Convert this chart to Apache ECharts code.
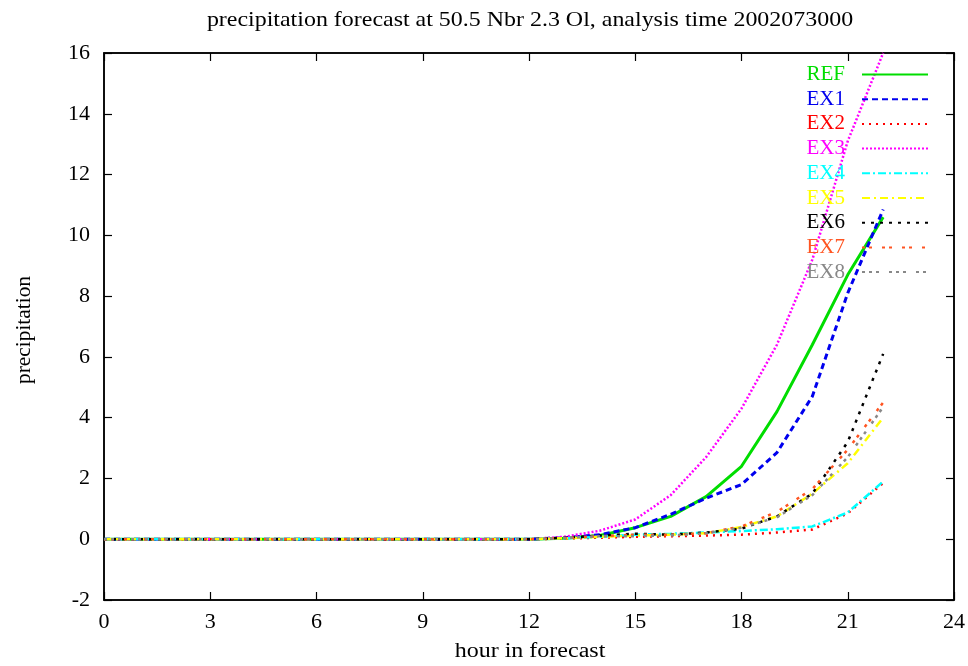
<!DOCTYPE html>
<html><head><meta charset="utf-8">
<script src="https://cdn.jsdelivr.net/npm/echarts@6/dist/echarts.min.js"></script>
<style>html,body{margin:0;padding:0;background:#fff}#c{width:968px;height:666px}</style>
</head><body><div id="c"></div>
<script>
var hours = [0,1,2,3,4,5,6,7,8,9,10,11,12,13,14,15,16,17,18,19,20,21,22];
var z = [0,0,0,0,0,0,0,0,0,0,0,0,0];
var REF = z.concat([0.03,0.12,0.38,0.75,1.4,2.4,4.2,6.4,8.7,10.6]);
var EX1 = z.concat([0.05,0.15,0.38,0.82,1.35,1.8,2.85,4.7,8.1,10.85]);
var EX2 = z.concat([0.02,0.05,0.08,0.1,0.12,0.15,0.22,0.32,0.85,1.85]);
var EX3 = z.concat([0.08,0.28,0.65,1.45,2.7,4.3,6.4,9.2,13.1,16.0]);
var EX4 = z.concat([0.03,0.08,0.15,0.18,0.22,0.27,0.33,0.42,0.88,1.9]);
var EX5 = z.concat([0.03,0.08,0.12,0.15,0.2,0.4,0.75,1.5,2.5,4.0]);
var EX6 = z.concat([0.05,0.12,0.18,0.15,0.22,0.35,0.75,1.5,3.2,6.1]);
var EX7 = z.concat([0.04,0.1,0.15,0.15,0.2,0.42,0.9,1.65,2.95,4.5]);
var EX8 = z.concat([0.04,0.1,0.1,0.12,0.2,0.38,0.72,1.45,2.7,4.35]);
var names = ['REF','EX1','EX2','EX3','EX4','EX5','EX6','EX7','EX8'];
var values = [REF,EX1,EX2,EX3,EX4,EX5,EX6,EX7,EX8];
var colors = ['#00dd00','#0000ee','#ff0000','#ff00ff','#00ffff','#ffff00','#000000','#ff5522','#888888'];
var dashes = ['solid',[6,4],[2,5],[2,2],[8,3,2,3],[8,4,2,4],[3,6],[3,4,3,10],[3,4,3,4,3,10]];
var widths = [3,3,2.5,2.5,2.5,2.5,2.5,2.5,2.5];
var xTicks = {min:0,max:24,interval:3};
var yTicks = {min:-2,max:16,interval:2};
var titleText = 'precipitation forecast at 50.5 Nbr 2.3 Ol, analysis time 2002073000';
var xName = 'hour in forecast';
var yName = 'precipitation';

var serif = '"Liberation Serif","DejaVu Serif",serif';
var chart = echarts.init(document.getElementById('c'));
var series = names.map(function(n,i){
  return {
    name:n, type:'line', symbol:'none', animation:false,
    data: hours.map(function(h,j){return [h, values[i][j]];}),
    lineStyle:{color:colors[i], width:widths[i], type:dashes[i]},
    itemStyle:{color:colors[i]}
  };
});
var tickStyle = {show:true, inside:true, length:8, lineStyle:{color:'#000', width:1.2}};
var lineAx = {show:true, onZero:false, lineStyle:{color:'#000', width:1.5}};
chart.setOption({
  backgroundColor:'#fff',
  animation:false,
  grid:{left:104, right:8, top:53, bottom:66, show:true, borderColor:'#000', borderWidth:1.5},
  legend:{
    orient:'vertical', right:34, top:59, align:'right',
    itemWidth:66, itemHeight:20, itemGap:3.7,
    itemStyle:{opacity:0},
    data: names.map(function(n,i){return {name:n, textStyle:{color:colors[i]}};}),
    textStyle:{fontFamily:serif, fontSize:21, padding:[0,12,0,0]}
  },
  xAxis:[
    {type:'value', min:xTicks.min, max:xTicks.max, interval:xTicks.interval,
     axisLine:lineAx, axisTick:tickStyle, splitLine:{show:false},
     axisLabel:{fontFamily:serif, fontSize:22, color:'#000', margin:11}},
    {type:'value', position:'top', min:xTicks.min, max:xTicks.max, interval:xTicks.interval,
     axisLine:lineAx, axisTick:tickStyle, splitLine:{show:false}, axisLabel:{show:false}}
  ],
  yAxis:[
    {type:'value', min:yTicks.min, max:yTicks.max, interval:yTicks.interval,
     axisLine:lineAx, axisTick:tickStyle, splitLine:{show:false},
     axisLabel:{fontFamily:serif, fontSize:22, color:'#000', margin:14}},
    {type:'value', position:'right', min:yTicks.min, max:yTicks.max, interval:yTicks.interval,
     axisLine:lineAx, axisTick:tickStyle, splitLine:{show:false}, axisLabel:{show:false}}
  ],
  graphic:[
    {type:'text', x:530, y:20, scaleX:1.14,
     style:{text:titleText, font:'21px '+serif, fill:'#000', textAlign:'center', textVerticalAlign:'middle'}},
    {type:'text', x:530, y:652, scaleX:1.2,
     style:{text:xName, font:'20px '+serif, fill:'#000', textAlign:'center', textVerticalAlign:'middle'}},
    {type:'text', x:25, y:330, rotation:Math.PI/2, scaleX:1.07,
     style:{text:yName, font:'20px '+serif, fill:'#000', textAlign:'center', textVerticalAlign:'middle'}}
  ],
  series:series
});
</script></body></html>
